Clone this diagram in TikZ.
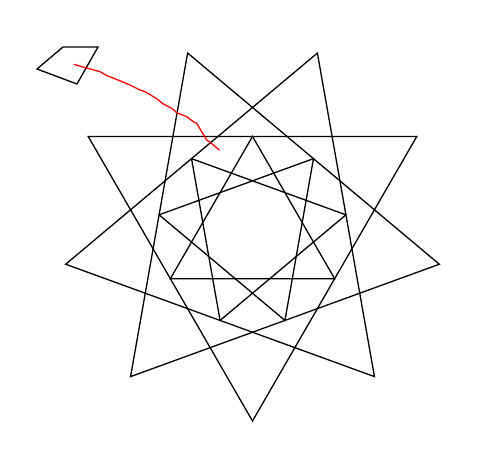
\documentclass[tikz,border=0pt]{standalone}
\begin{document}
\begin{tikzpicture}[x=1pt,y=1pt,
  starline/.style={draw=black,line width=1.3pt,line join=miter},
  turtleshape/.style={draw=black,line width=1.3pt,line join=miter},
  trail/.style={draw=red,line width=1.3pt,line join=round,line cap=round}]
\useasboundingbox (0,0) rectangle (497,463);
\foreach \k in {0,...,8}{
  \coordinate (o\k) at ({252.5+189.7*cos(-90+40*\k)},{231.7+189.7*sin(-90+40*\k)});
  \coordinate (i\k) at ({252.5+94.85*cos(90+40*\k)},{231.7+94.85*sin(90+40*\k)});
}
% outer star {9/3}
\draw[starline] (o0)--(o3)--(o6)--cycle;
\draw[starline] (o1)--(o4)--(o7)--cycle;
\draw[starline] (o2)--(o5)--(o8)--cycle;
% inner star {9/3}
\draw[starline] (i0)--(i3)--(i6)--cycle;
\draw[starline] (i1)--(i4)--(i7)--cycle;
\draw[starline] (i2)--(i5)--(i8)--cycle;
% turtle
\coordinate (t1) at (37,394);
\coordinate (t2) at (63,416);
\coordinate (t3) at (98,416);
\coordinate (t4) at (77,379);
\draw[turtleshape] (t1)--(t2)--(t3)--(t4)--cycle;
% red trail
\draw[trail] (74.3,398.5)--(86.7,395)--(100,391.3)--(106.7,387.5)--(113,385)--(121.7,381.5)--(130,378)--(140,373)--(145,371.3)--(156.7,364.3)--(163.3,359)--(171.7,354.7)--(176.7,350.3)--(186.7,346.3)--(193.3,341.3)--(196.7,339.7)--(201.7,331.3)--(206.7,323)--(211,320)--(219.3,313);
\end{tikzpicture}
\end{document}
